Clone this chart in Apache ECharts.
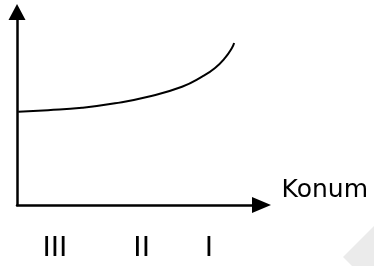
<!DOCTYPE html>
<html>
<head>
<meta charset="utf-8">
<script src="https://cdn.jsdelivr.net/npm/echarts@6/dist/echarts.min.js"></script>
<style>html,body{margin:0;padding:0;background:#fff;}#c{width:374px;height:266px;}</style>
</head>
<body>
<div id="c"></div>
<script>
// Curve samples (arbitrary 0-100 units on both axes)
var curveX = [0.5, 12.7, 26.6, 40.1, 53.6, 67.5, 75.7, 81.0, 85.1, 87.9, 88.8];
var curveY = [48.3, 49.1, 50.4, 52.7, 56.1, 61.3, 66.5, 71.0, 76.2, 81.3, 83.9];
// Region labels along the x axis
var labelPositions = [15.5, 51, 78.5];
var labelNames = ['III', 'II', 'I'];
var xName = 'Konum';

var data = curveX.map(function (x, i) { return [x, curveY[i]]; });

var chart = echarts.init(document.getElementById('c'), null, {renderer: 'canvas'});
chart.setOption({
  backgroundColor: '#ffffff',
  animation: false,
  grid: {left: 17, right: 112.5, top: 12, bottom: 61, containLabel: false},
  xAxis: {
    type: 'value', min: 0, max: 100,
    name: xName, nameLocation: 'end', nameGap: 20,
    nameTextStyle: {color: '#000', fontFamily: 'DejaVu Sans', fontSize: 25, lineHeight: 29, verticalAlign: 'bottom'},
    axisLine: {show: true, symbol: ['none', 'triangle'], symbolSize: [16, 19], lineStyle: {color: '#000', width: 2.5}},
    axisTick: {show: false},
    splitLine: {show: false},
    axisLabel: {
      show: true, customValues: labelPositions, margin: 28,
      color: '#000', fontFamily: 'Liberation Sans', fontSize: 30,
      formatter: function (v) { var i = labelPositions.indexOf(v); return i >= 0 ? labelNames[i] : ''; }
    }
  },
  yAxis: {
    type: 'value', min: 0, max: 100,
    axisLine: {show: true, symbol: ['none', 'triangle'], symbolSize: [17, 16], lineStyle: {color: '#000', width: 2.5}},
    axisTick: {show: false},
    splitLine: {show: false},
    axisLabel: {show: false}
  },
  graphic: [{
    type: 'polygon', silent: true, z: -1,
    shape: {points: [[343, 257], [374, 226], [374, 266], [352, 266]]},
    style: {fill: '#ebebeb'}
  }],
  series: [{
    type: 'line', data: data, smooth: true, showSymbol: false,
    lineStyle: {color: '#000', width: 2}
  }]
});
</script>
</body>
</html>
